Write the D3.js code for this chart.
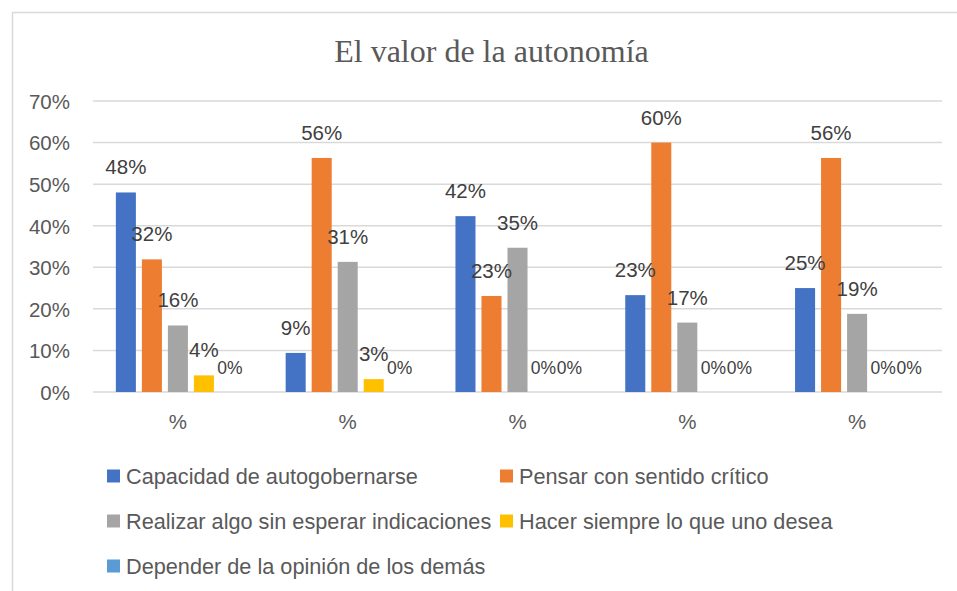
<!DOCTYPE html>
<html>
<head>
<meta charset="utf-8">
<script src="https://cdn.jsdelivr.net/npm/d3@7"></script>
<style>
    html, body { margin: 0; padding: 0; background: #ffffff; }
    #viz-autonomia { width: 957px; height: 591px; }
</style>
</head>
<body>
<div id="viz-autonomia"></div>
<script>
// El valor de la autonomía - grouped bars, 5 groups all labelled "%"
const categories = ['g1', 'g2', 'g3', 'g4', 'g5'];
const categoryLabels = ['%', '%', '%', '%', '%'];

const seriesNames = [
    'Capacidad de autogobernarse',
    'Pensar con sentido crítico',
    'Realizar algo sin esperar indicaciones',
    'Hacer siempre lo que uno desea',
    'Depender de la opinión de los demás'
];
const seriesColors = ['#4472C4', '#ED7D31', '#A5A5A5', '#FFC000', '#5B9BD5'];

// values as fractions, one array per series
const capacidadValues = [0.48, 0.094, 0.423, 0.233, 0.25];
const pensarValues = [0.319, 0.563, 0.231, 0.60, 0.563];
const realizarValues = [0.16, 0.313, 0.347, 0.167, 0.188];
const hacerValues = [0.04, 0.031, 0, 0, 0];
const dependerValues = [0, 0, 0, 0, 0];

const yTicks = [0, 0.1, 0.2, 0.3, 0.4, 0.5, 0.6, 0.7];

function createAutonomiaChart() {
    const container = d3.select('#viz-autonomia');
    container.selectAll('*').remove();

    const W = 957, H = 591;
    const plot = { left: 93, right: 942, top: 101, bottom: 392 };

    const svg = container.append('svg')
        .attr('width', W)
        .attr('height', H)
        .style('font-family', '"Liberation Sans", Arial, sans-serif');

    // chart frame (runs off the right / bottom edge in the original)
    svg.append('rect')
        .attr('x', 12.5).attr('y', 12.5)
        .attr('width', W + 20).attr('height', H + 20)
        .attr('fill', 'none')
        .attr('stroke', '#d9d9d9')
        .attr('stroke-width', 1.5);

    // Title
    svg.append('text')
        .attr('x', 491.5)
        .attr('y', 62)
        .attr('text-anchor', 'middle')
        .style('font-family', '"Liberation Serif", "Times New Roman", serif')
        .style('font-size', '32px')
        .style('fill', '#595959')
        .text('El valor de la autonomía');

    const allSeries = [capacidadValues, pensarValues, realizarValues, hacerValues, dependerValues];
    const rows = categories.map((c, i) => ({
        key: c,
        label: categoryLabels[i],
        values: allSeries.map((vals, s) => ({ series: s, value: vals[i] }))
    }));

    const x0 = d3.scaleBand()
        .domain(categories)
        .range([plot.left, plot.right])
        .paddingInner(0.234)
        .paddingOuter(0.117);

    const x1 = d3.scaleBand()
        .domain(d3.range(seriesNames.length))
        .range([0, x0.bandwidth()])
        .paddingInner(0.23)
        .paddingOuter(0.115);

    const y = d3.scaleLinear()
        .domain([0, 0.7])
        .range([plot.bottom, plot.top]);

    // Grid
    svg.append('g')
        .selectAll('line')
        .data(yTicks)
        .enter()
        .append('line')
        .attr('x1', plot.left)
        .attr('x2', plot.right)
        .attr('y1', d => y(d))
        .attr('y2', d => y(d))
        .attr('stroke', '#d9d9d9')
        .attr('stroke-width', 1.5);

    // Y axis labels
    const yAxis = svg.append('g')
        .attr('transform', `translate(${plot.left - 23},0)`)
        .call(d3.axisLeft(y).tickValues(yTicks).tickFormat(d3.format('.0%')).tickSize(0).tickPadding(0));
    yAxis.select('.domain').remove();
    yAxis.selectAll('text')
        .attr('dy', '0.36em')
        .style('font-family', '"Liberation Sans", Arial, sans-serif')
        .style('font-size', '20.5px')
        .style('fill', '#595959');

    // Bars
    const groups = svg.append('g')
        .selectAll('.group')
        .data(rows)
        .enter()
        .append('g')
        .attr('class', 'group')
        .attr('transform', d => `translate(${x0(d.key)},0)`);

    groups.selectAll('rect')
        .data(d => d.values)
        .enter()
        .append('rect')
        .attr('x', d => x1(d.series))
        .attr('y', d => y(d.value))
        .attr('width', x1.bandwidth())
        .attr('height', d => plot.bottom - y(d.value))
        .attr('fill', d => seriesColors[d.series]);

    // Data labels - the "0%" ones sit side by side, so they get a slightly smaller size
    groups.selectAll('.lbl')
        .data(d => d.values)
        .enter()
        .append('text')
        .attr('class', 'lbl')
        .attr('x', d => x1(d.series) + x1.bandwidth() / 2)
        .attr('y', d => y(d.value) - 18)
        .attr('text-anchor', 'middle')
        .style('font-size', d => d.value === 0 ? '17.5px' : '20.5px')
        .style('fill', '#404040')
        .text(d => d3.format('.0%')(d.value));

    // Category labels
    svg.append('g')
        .selectAll('text')
        .data(rows)
        .enter()
        .append('text')
        .attr('x', d => x0(d.key) + x0.bandwidth() / 2)
        .attr('y', 429)
        .attr('text-anchor', 'middle')
        .style('font-size', '20.5px')
        .style('fill', '#595959')
        .text(d => d.label);

    // Legend - two columns, three rows
    const legendCols = [107, 500];
    const legendRows = [476, 521, 566];
    const legend = svg.append('g');
    seriesNames.forEach((name, i) => {
        const lx = legendCols[i % 2];
        const ly = legendRows[Math.floor(i / 2)];
        legend.append('rect')
            .attr('x', lx).attr('y', ly - 6.5)
            .attr('width', 13).attr('height', 13)
            .attr('fill', seriesColors[i]);
        legend.append('text')
            .attr('x', lx + 19)
            .attr('y', ly + 7.5)
            .style('font-size', '21.7px')
            .style('fill', '#595959')
            .text(name);
    });
}

createAutonomiaChart();
</script>
</body>
</html>
